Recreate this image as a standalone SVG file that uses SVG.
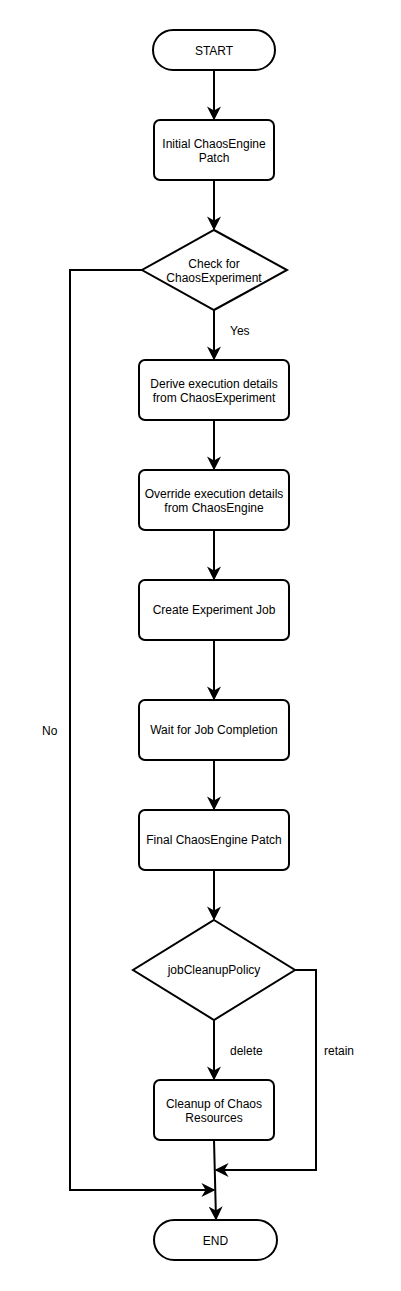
<svg xmlns="http://www.w3.org/2000/svg" width="401" height="1291" viewBox="0 0 401 1291">
<style>
.n{fill:#fff;stroke:#000;stroke-width:2}
.t{font-family:"Liberation Sans",Arial,sans-serif;font-size:12px;fill:#000;text-anchor:middle}
.l{font-family:"Liberation Sans",Arial,sans-serif;font-size:12px;fill:#000}
.c{fill:none;stroke:#000;stroke-width:2}
</style>
<defs>
<marker id="b" viewBox="0 0 10 10" refX="9" refY="5" markerWidth="14" markerHeight="14" markerUnits="userSpaceOnUse" orient="auto">
<path d="M0,0 L10,5 L0,10 L3,5 z" fill="#000"/>
</marker>
</defs>
<rect width="401" height="1291" fill="#fff"/>
<g id="connectors">
<path class="c" d="M214,70 V119" marker-end="url(#b)"/>
<path class="c" d="M214,180 V229" marker-end="url(#b)"/>
<path class="c" d="M214,310 V359" marker-end="url(#b)"/>
<path class="c" d="M214,420 V469" marker-end="url(#b)"/>
<path class="c" d="M214,530 V579" marker-end="url(#b)"/>
<path class="c" d="M214,640 V699" marker-end="url(#b)"/>
<path class="c" d="M214,760 V809" marker-end="url(#b)"/>
<path class="c" d="M214,870 V919" marker-end="url(#b)"/>
<path class="c" d="M214,1020 V1079" marker-end="url(#b)"/>
<path class="c" d="M214,1140 L216,1219" marker-end="url(#b)"/>
<path class="c" d="M142,270 H70 V1190 H214" marker-end="url(#b)"/>
<path class="c" d="M295,970 H316 V1170 H216" marker-end="url(#b)"/>
<text class="l" x="230" y="335">Yes</text>
<text class="l" x="42" y="735">No</text>
<text class="l" x="230" y="1055">delete</text>
<text class="l" x="324" y="1055">retain</text>
</g>
<g id="start"><rect class="n" x="153" y="30" width="122" height="40" rx="20"/><text class="t" x="214" y="55">START</text></g>
<g id="initial"><rect class="n" x="154" y="120" width="120" height="60" rx="6"/><text class="t" x="214" y="148">Initial ChaosEngine</text><text class="t" x="214" y="162">Patch</text></g>
<g id="check"><path class="n" d="M214,230 L287,270 L214,310 L142,270 z"/><text class="t" x="214" y="268">Check for</text><text class="t" x="214" y="282">ChaosExperiment</text></g>
<g id="derive"><rect class="n" x="139" y="360" width="150" height="60" rx="6"/><text class="t" x="214" y="388">Derive execution details</text><text class="t" x="214" y="402">from ChaosExperiment</text></g>
<g id="override"><rect class="n" x="139" y="470" width="150" height="60" rx="6"/><text class="t" x="214" y="498">Override execution details</text><text class="t" x="214" y="512">from ChaosEngine</text></g>
<g id="create"><rect class="n" x="139" y="580" width="150" height="60" rx="6"/><text class="t" x="214" y="614">Create Experiment Job</text></g>
<g id="wait"><rect class="n" x="139" y="700" width="150" height="60" rx="6"/><text class="t" x="214" y="734">Wait for Job Completion</text></g>
<g id="final"><rect class="n" x="139" y="810" width="150" height="60" rx="6"/><text class="t" x="214" y="844">Final ChaosEngine Patch</text></g>
<g id="policy"><path class="n" d="M214,920 L295,970 L214,1020 L133,970 z"/><text class="t" x="214" y="974">jobCleanupPolicy</text></g>
<g id="cleanup"><rect class="n" x="154" y="1080" width="120" height="60" rx="6"/><text class="t" x="214" y="1108">Cleanup of Chaos</text><text class="t" x="214" y="1122">Resources</text></g>
<g id="end"><rect class="n" x="154" y="1220" width="123" height="40" rx="20"/><text class="t" x="215.5" y="1245">END</text></g>
</svg>
